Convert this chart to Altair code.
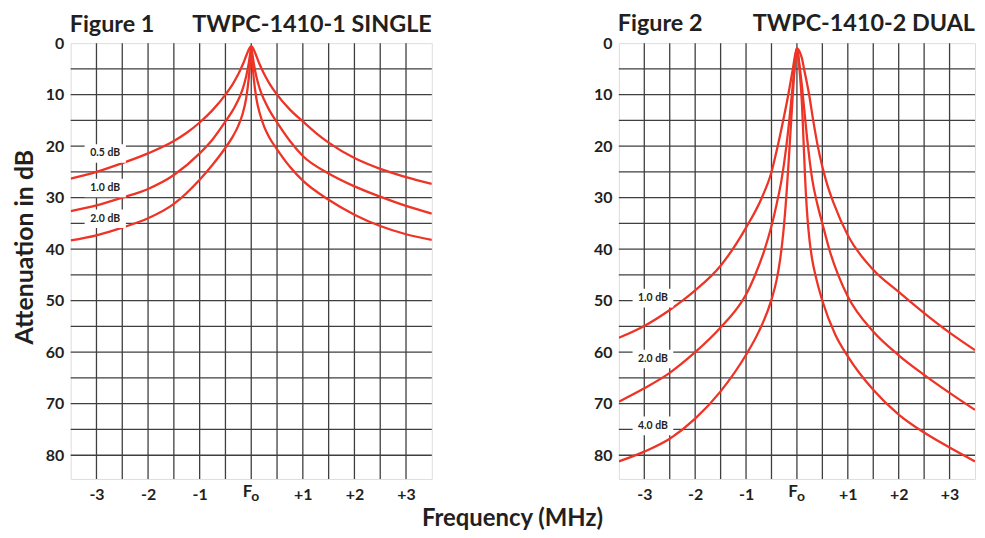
import altair as alt
import pandas as pd

FONT = "Lato"
RED = "#EE3426"
INK = "#231F20"
GRID = "#3f3f3f"

# ---------------- Figure 1 : TWPC-1410-1 SINGLE ----------------
F1_05_FREQ = [-3.5, -3, -2.5, -2, -1.5, -1.25, -1, -0.75, -0.5, -0.35, -0.25, -0.15, -0.08, -0.03, 0,
              0.03, 0.08, 0.15, 0.25, 0.35, 0.5, 0.75, 1, 1.25, 1.5, 2, 2.5, 3, 3.5]
F1_05_ATT = [26.3, 25.0, 23.3, 21.4, 19.0, 17.4, 15.4, 13.0, 10.0, 7.8, 6.0, 3.8, 2.0, 0.9, 0.6,
             0.9, 2.0, 3.8, 6.0, 7.8, 10.0, 12.9, 15.2, 17.4, 19.3, 22.3, 24.4, 26.0, 27.3]

F1_10_FREQ = [-3.5, -3, -2.5, -2, -1.5, -1, -0.75, -0.5, -0.35, -0.25, -0.17, -0.1, -0.05, -0.02, 0,
              0.02, 0.05, 0.1, 0.17, 0.25, 0.35, 0.5, 0.75, 1, 1.5, 2, 2.5, 3, 3.5]
F1_10_ATT = [32.6, 31.5, 30.0, 28.3, 25.6, 21.4, 18.7, 15.2, 12.9, 11.0, 9.0, 6.5, 4.0, 2.0, 0.8,
             2.0, 4.0, 6.5, 9.0, 11.0, 13.0, 15.4, 19.0, 21.9, 25.3, 27.8, 29.8, 31.6, 33.1]

F1_20_FREQ = [-3.5, -3, -2.5, -2, -1.5, -1, -0.75, -0.5, -0.35, -0.25, -0.17, -0.1, -0.05, -0.02, 0,
              0.02, 0.05, 0.1, 0.17, 0.25, 0.35, 0.5, 0.75, 1, 1.5, 2, 2.5, 3, 3.5]
F1_20_ATT = [38.3, 37.3, 35.8, 34.0, 31.2, 26.5, 23.6, 20.3, 18.0, 16.0, 13.8, 10.8, 7.0, 3.5, 1.0,
             3.5, 7.0, 10.8, 13.8, 16.2, 18.3, 20.6, 24.0, 26.7, 30.4, 33.3, 35.5, 37.1, 38.2]

F1_LABELS = ["0.5 dB", "1.0 dB", "2.0 dB"]
F1_LABEL_DB = [21.4, 28.1, 34.1]

# ---------------- Figure 2 : TWPC-1410-2 DUAL ----------------
F2_10_FREQ = [-3.5, -3, -2.5, -2.25, -2, -1.5, -1, -0.69, -0.5, -0.39, -0.27, -0.17, -0.08, -0.03, 0,
              0.05, 0.1, 0.14, 0.24, 0.32, 0.4, 0.5, 0.6, 0.72, 1, 1.5, 2, 2.5, 3, 3.5]
F2_10_ATT = [57.2, 54.9, 51.8, 50.0, 48.0, 43.2, 35.8, 30.0, 25.0, 20.5, 15.0, 10.0, 5.0, 2.0, 1.0,
             1.6, 3.0, 5.0, 10.0, 15.0, 19.5, 24.0, 27.6, 31.0, 37.3, 44.0, 48.3, 52.4, 56.2, 59.6]

F2_20_FREQ = [-3.5, -3, -2.5, -2, -1.5, -1.1, -1, -0.83, -0.65, -0.5, -0.4, -0.3, -0.21, -0.15, -0.1, -0.05, -0.02, 0,
              0.02, 0.06, 0.1, 0.15, 0.2, 0.25, 0.3, 0.4, 0.5, 0.65, 0.81, 1, 1.5, 2, 2.5, 3, 3.5]
F2_20_ATT = [69.6, 67.0, 64.0, 60.0, 55.2, 50.4, 48.8, 45.2, 40.5, 35.5, 31.3, 26.4, 20.2, 15.0, 10.0, 5.0, 2.2, 1.0,
             2.0, 5.0, 8.5, 13.5, 18.5, 22.8, 26.4, 31.2, 35.0, 40.5, 45.0, 49.2, 56.0, 60.6, 64.4, 67.9, 71.2]

F2_40_FREQ = [-3.5, -3, -2.5, -2, -1.5, -1, -0.75, -0.5, -0.4, -0.33, -0.27, -0.21, -0.15, -0.1, -0.05, -0.02, 0,
              0.02, 0.05, 0.1, 0.13, 0.16, 0.2, 0.25, 0.3, 0.37, 0.5, 0.75, 1, 1.5, 2, 2.5, 3, 3.5]
F2_40_ATT = [81.2, 79.3, 76.8, 72.9, 67.6, 60.5, 56.0, 49.8, 46.0, 42.0, 37.0, 30.0, 21.0, 13.0, 5.5, 2.2, 1.0,
             2.0, 5.0, 12.0, 19.0, 26.0, 33.0, 38.5, 42.0, 45.3, 50.0, 56.5, 60.8, 67.3, 72.1, 75.6, 78.5, 81.2]

F2_LABELS = ["1.0 dB", "2.0 dB", "4.0 dB"]
F2_LABEL_DB = [49.5, 61.3, 74.3]

X_GRID = [-3, -2.5, -2, -1.5, -1, -0.5, 0, 0.5, 1, 1.5, 2, 2.5, 3]
Y_GRID = [5, 10, 15, 20, 25, 30, 35, 40, 45, 50, 55, 60, 65, 70, 75, 80]
X_TICKS = [-3, -2, -1, 1, 2, 3]
Y_TICKS = [0, 10, 20, 30, 40, 50, 60, 70, 80]

W1, W2, H = 363, 358, 438
X_DOMAIN = [-3.5, 3.5]
Y_DOMAIN = [0, 84.6]

XS = alt.Scale(domain=X_DOMAIN, nice=False, zero=False)
YS = alt.Scale(domain=Y_DOMAIN, nice=False, zero=False, reverse=True)
X_AXIS = alt.Axis(
    values=X_TICKS,
    labelExpr="datum.value > 0 ? '+' + datum.value : '' + datum.value",
    grid=False, ticks=False, domain=False,
    labelFont=FONT, labelFontSize=16, labelFontWeight="bold", labelColor=INK,
    labelPadding=8, labelOverlap=False, title=None)
Y_AXIS = alt.Axis(
    values=Y_TICKS,
    labelExpr="'' + datum.value",
    grid=False, ticks=False, domain=False,
    labelFont=FONT, labelFontSize=16, labelFontWeight="bold", labelColor=INK,
    labelPadding=7, labelOverlap=False, title=None)


def X(field):
    return alt.X(field, type="quantitative", scale=XS, axis=X_AXIS, title=None)


def Y(field):
    return alt.Y(field, type="quantitative", scale=YS, axis=Y_AXIS, title=None)


def curves_df(pairs):
    frames = []
    for name, fr, at in pairs:
        frames.append(pd.DataFrame({"curve": name, "freq": fr, "atten": at}))
    return pd.concat(frames, ignore_index=True)


def panel(pairs, labels, label_db, fig, model, width, fig_y, y_title):
    vgrid = alt.Chart(pd.DataFrame({"freq": X_GRID})).mark_rule(
        color=GRID, strokeWidth=1.3).encode(x=X("freq"))
    hgrid = alt.Chart(pd.DataFrame({"atten": Y_GRID})).mark_rule(
        color=GRID, strokeWidth=1.3).encode(y=Y("atten"))

    lines = alt.Chart(curves_df(pairs)).mark_line(
        color=RED, strokeWidth=2.3, interpolate="monotone", clip=True
    ).encode(x=X("freq"), y=Y("atten"), detail="curve:N")

    lab = pd.DataFrame({"lab": labels, "atten": label_db, "freq": [-2.83] * len(labels)})
    lab["freq0"] = lab["freq"] - 0.4
    lab["freq1"] = lab["freq"] + 0.4
    lab["att0"] = lab["atten"] - 1.8
    lab["att1"] = lab["atten"] + 1.8

    boxes = alt.Chart(lab).mark_rect(fill="white").encode(
        x=X("freq0"), x2="freq1", y=Y("att0"), y2="att1")
    texts = alt.Chart(lab).mark_text(
        font=FONT, fontSize=10.5, fontWeight="bold", color=INK
    ).encode(x=X("freq"), y=Y("atten"), text="lab:N")

    fo = pd.DataFrame({"freq": [0]})
    f_mark = alt.Chart(fo).mark_text(
        font=FONT, fontSize=17, fontWeight="bold", color=INK, align="right", baseline="alphabetic", dx=1
    ).encode(x=X("freq"), y=alt.value(H + 18), text=alt.value("F"))
    o_mark = alt.Chart(fo).mark_text(
        font=FONT, fontSize=14, fontWeight="bold", color=INK, align="left", baseline="alphabetic", dx=0
    ).encode(x=X("freq"), y=alt.value(H + 22), text=alt.value("o"))

    tdf = pd.DataFrame({"fig": [fig], "model": [model]})
    t1 = alt.Chart(tdf).mark_text(
        font=FONT, fontSize=23.5, fontWeight="bold", color=INK, align="left", baseline="top"
    ).encode(x=alt.value(-1), y=alt.value(fig_y), text="fig:N")
    t2 = alt.Chart(tdf).mark_text(
        font=FONT, fontSize=23.5, fontWeight="bold", color=INK, align="right", baseline="top"
    ).encode(x=alt.value(width), y=alt.value(fig_y), text="model:N")

    layers = [vgrid, hgrid, lines, boxes, texts, f_mark, o_mark, t1, t2]
    if y_title:
        ydf = pd.DataFrame({"t": ["Attenuation in dB"]})
        yt = alt.Chart(ydf).mark_text(
            font=FONT, fontSize=25, fontWeight="bold", color=INK, angle=270, baseline="middle", align="center"
        ).encode(x=alt.value(-45.5), y=alt.value(205), text="t:N")
        layers.append(yt)
    return alt.layer(*layers).properties(width=width, height=H)


left = panel(
    [("0.5", F1_05_FREQ, F1_05_ATT), ("1.0", F1_10_FREQ, F1_10_ATT), ("2.0", F1_20_FREQ, F1_20_ATT)],
    F1_LABELS, F1_LABEL_DB, "Figure 1", "TWPC-1410-1 SINGLE", W1, -30, True)
right = panel(
    [("1.0", F2_10_FREQ, F2_10_ATT), ("2.0", F2_20_FREQ, F2_20_ATT), ("4.0", F2_40_FREQ, F2_40_ATT)],
    F2_LABELS, F2_LABEL_DB, "Figure 2", "TWPC-1410-2 DUAL", W2, -31, False)

chart = alt.hconcat(left, right, spacing=159).properties(
    padding={"left": 5, "top": 2, "right": 0, "bottom": 0},
    title=alt.TitleParams(
        "Frequency (MHz)", orient="bottom", anchor="middle",
        font=FONT, fontSize=24, fontWeight="bold", color=INK, offset=3, dx=18),
).configure_view(stroke="#1c1c1c", strokeWidth=3).configure(background="white")

chart.save("out.html", embed_options={"renderer": "svg", "actions": False})
